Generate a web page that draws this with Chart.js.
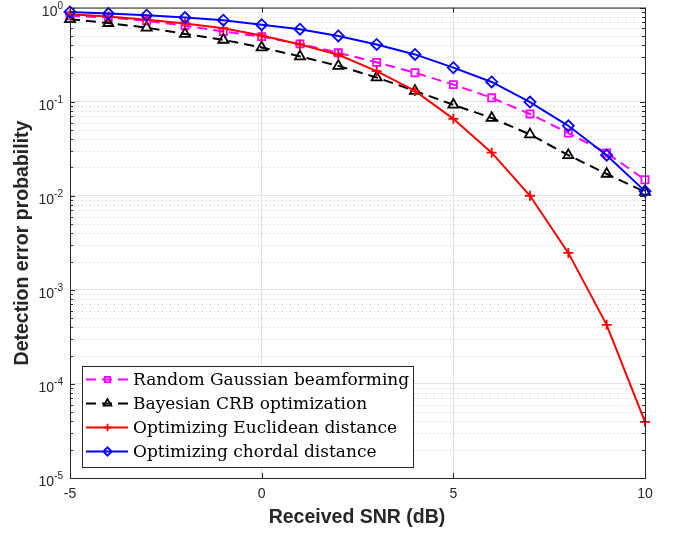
<!DOCTYPE html>
<html>
<head>
<meta charset="utf-8">
<script src="https://cdn.jsdelivr.net/npm/chart.js@4.4.1/dist/chart.umd.min.js"></script>
<style>
body { margin: 0; background: #fff; }
#wrap { width: 678px; height: 533px; }
</style>
</head>
<body>
<div id="wrap"><canvas id="errChart" width="678" height="533"></canvas></div>
<script>
// values
var snr = [-5, -4, -3, -2, -1, 0, 1, 2, 3, 4, 5, 6, 7, 8, 9, 10];
var randomGaussian = [0.818, 0.785, 0.725, 0.642, 0.556, 0.492, 0.411, 0.331, 0.262, 0.203, 0.152, 0.110, 0.074, 0.0464, 0.0285, 0.0148];
var bayesianCrb = [0.753, 0.684, 0.612, 0.525, 0.454, 0.377, 0.303, 0.240, 0.181, 0.130, 0.0927, 0.0671, 0.0449, 0.0270, 0.0171, 0.0110];
var euclidean = [0.850, 0.804, 0.743, 0.679, 0.602, 0.505, 0.406, 0.315, 0.211, 0.130, 0.0657, 0.0287, 0.0100, 0.00247, 0.000425, 0.0000395];
var chordal = [0.900, 0.865, 0.830, 0.785, 0.735, 0.658, 0.590, 0.500, 0.406, 0.318, 0.230, 0.162, 0.099, 0.0554, 0.0270, 0.0112];
var seriesNames = ['Random Gaussian beamforming', 'Bayesian CRB optimization', 'Optimizing Euclidean distance', 'Optimizing chordal distance'];
var xTickValues = [-5, 0, 5, 10];
var yExponents = [0, -1, -2, -3, -4, -5];
var xTitle = 'Received SNR (dB)';
var yTitle = 'Detection error probability';

var axisColor = '#262626';

function toPoints(arr) {
    return snr.map(function(x, i) { return { x: x, y: arr[i] }; });
}

// draws the matlab style box, minor grid, ticks, labels and legend
var matlabLook = {
    id: 'matlabLook',
    beforeDatasetsDraw: function(chart) {
        var ctx = chart.ctx, a = chart.chartArea, ys = chart.scales.y;
        ctx.save();
        ctx.strokeStyle = '#cfcfcf';
        ctx.lineWidth = 1;
        ctx.setLineDash([1, 3]);
        yExponents.forEach(function(e) {
            if (e === 0) return;
            for (var m = 2; m <= 9; m++) {
                var py = Math.round(ys.getPixelForValue(m * Math.pow(10, e))) + 0.5;
                ctx.beginPath();
                ctx.moveTo(a.left, py);
                ctx.lineTo(a.right, py);
                ctx.stroke();
            }
        });
        ctx.restore();
    },
    afterDraw: function(chart) {
        var ctx = chart.ctx, a = chart.chartArea;
        var xs = chart.scales.x, ys = chart.scales.y;
        ctx.save();
        ctx.strokeStyle = axisColor;
        ctx.lineWidth = 1;
        // top and right box lines
        ctx.beginPath();
        ctx.moveTo(a.left, a.top + 0.5);
        ctx.lineTo(a.right + 0.5, a.top + 0.5);
        ctx.lineTo(a.right + 0.5, a.bottom);
        ctx.stroke();

        // inward ticks
        ctx.beginPath();
        xTickValues.forEach(function(v) {
            var px = Math.round(xs.getPixelForValue(v)) + 0.5;
            ctx.moveTo(px, a.bottom); ctx.lineTo(px, a.bottom - 5);
            ctx.moveTo(px, a.top); ctx.lineTo(px, a.top + 5);
        });
        yExponents.forEach(function(e) {
            var py = Math.round(ys.getPixelForValue(Math.pow(10, e))) + 0.5;
            ctx.moveTo(a.left, py); ctx.lineTo(a.left + 5, py);
            ctx.moveTo(a.right, py); ctx.lineTo(a.right - 5, py);
            if (e === 0) return;
            for (var m = 2; m <= 9; m++) {
                var pm = Math.round(ys.getPixelForValue(m * Math.pow(10, e))) + 0.5;
                ctx.moveTo(a.left, pm); ctx.lineTo(a.left + 3, pm);
                ctx.moveTo(a.right, pm); ctx.lineTo(a.right - 3, pm);
            }
        });
        ctx.stroke();

        // y tick labels as 10 with a raised exponent
        ctx.fillStyle = axisColor;
        ctx.textAlign = 'right';
        ctx.textBaseline = 'alphabetic';
        yExponents.forEach(function(e) {
            var py = ys.getPixelForValue(Math.pow(10, e));
            var expText = e === 0 ? '0' : '-' + Math.abs(e);
            ctx.font = '10px "Liberation Sans", Arial, sans-serif';
            var w = ctx.measureText(expText).width;
            ctx.fillText(expText, a.left - 7, py + 1);
            ctx.font = '14px "Liberation Sans", Arial, sans-serif';
            ctx.fillText('10', a.left - 7 - w, py + 8);
        });

        // axis titles
        ctx.font = 'bold 19.5px "Liberation Sans", Arial, sans-serif';
        ctx.textAlign = 'center';
        ctx.textBaseline = 'middle';
        ctx.fillText(xTitle, 357, 518);
        ctx.save();
        ctx.translate(23, 243);
        ctx.rotate(-Math.PI / 2);
        ctx.fillText(yTitle, 0, 0);
        ctx.restore();

        // legend box
        var bx = 82, by = 366, bw = 331, bh = 101;
        ctx.fillStyle = '#fff';
        ctx.fillRect(bx, by, bw, bh);
        ctx.strokeStyle = axisColor;
        ctx.lineWidth = 1;
        ctx.strokeRect(bx + 0.5, by + 0.5, bw, bh);
        chart.data.datasets.forEach(function(ds, i) {
            var ry = by + 13.5 + i * 24;
            ctx.save();
            ctx.strokeStyle = ds.borderColor;
            ctx.lineWidth = ds.borderWidth;
            ctx.setLineDash(ds.borderDash || []);
            ctx.beginPath();
            ctx.moveTo(86, ry);
            ctx.lineTo(128, ry);
            ctx.stroke();
            ctx.setLineDash([]);
            ctx.fillStyle = 'rgba(0,0,0,0)';
            ctx.lineWidth = ds.pointBorderWidth;
            Chart.helpers.drawPoint(ctx, {
                pointStyle: ds.pointStyle,
                rotation: 0,
                radius: ds.pointRadius * 0.75,
                borderWidth: ds.pointBorderWidth
            }, 107.5, ry);
            ctx.restore();
            ctx.fillStyle = '#000';
            ctx.textAlign = 'left';
            ctx.textBaseline = 'middle';
            ctx.font = '17px "DejaVu Serif", serif';
            ctx.fillText(ds.label, 133, ry + 1);
        });
        ctx.restore();
    }
};

var ctx = document.getElementById('errChart').getContext('2d');
var errChart = new Chart(ctx, {
    type: 'line',
    data: {
        datasets: [{
            label: seriesNames[0],
            data: toPoints(randomGaussian),
            borderColor: '#ff00ff',
            borderWidth: 2,
            borderDash: [10, 6],
            pointStyle: 'rect',
            pointRadius: 5,
            pointBorderWidth: 1.8,
            pointBackgroundColor: 'rgba(0,0,0,0)',
            order: 3
        }, {
            label: seriesNames[1],
            data: toPoints(bayesianCrb),
            borderColor: '#000000',
            borderWidth: 2,
            borderDash: [10, 6],
            pointStyle: 'triangle',
            pointRadius: 5.8,
            pointBorderWidth: 1.8,
            pointBackgroundColor: 'rgba(0,0,0,0)',
            order: 2
        }, {
            label: seriesNames[2],
            data: toPoints(euclidean),
            borderColor: '#ff0000',
            borderWidth: 2,
            pointStyle: 'cross',
            pointRadius: 5,
            pointBorderWidth: 1.8,
            pointBackgroundColor: 'rgba(0,0,0,0)',
            order: 1
        }, {
            label: seriesNames[3],
            data: toPoints(chordal),
            borderColor: '#0000ff',
            borderWidth: 2,
            pointStyle: 'rectRot',
            pointRadius: 5.5,
            pointBorderWidth: 1.8,
            pointBackgroundColor: 'rgba(0,0,0,0)',
            order: 0
        }]
    },
    options: {
        responsive: false,
        animation: false,
        clip: false,
        layout: { padding: { top: 2.1, right: 33, left: 0, bottom: 0 } },
        elements: { line: { tension: 0, fill: false } },
        plugins: { legend: { display: false }, tooltip: { enabled: false } },
        scales: {
            x: {
                type: 'linear',
                min: -5,
                max: 10,
                afterBuildTicks: function(scale) {
                    scale.ticks = xTickValues.map(function(v) { return { value: v }; });
                },
                afterFit: function(scale) { scale.height = 55; },
                ticks: {
                    padding: 8,
                    color: axisColor,
                    font: { family: '"Liberation Sans", Arial, sans-serif', size: 14 },
                    maxRotation: 0
                },
                grid: { color: '#e3e3e3', drawTicks: false },
                border: { color: axisColor }
            },
            y: {
                type: 'logarithmic',
                min: 1e-5,
                max: 1,
                afterBuildTicks: function(scale) {
                    scale.ticks = yExponents.map(function(e) { return { value: Math.pow(10, e) }; });
                },
                afterFit: function(scale) { scale.width = 70; },
                ticks: { display: false },
                grid: { color: '#e3e3e3', drawTicks: false },
                border: { color: axisColor }
            }
        }
    },
    plugins: [matlabLook]
});
</script>
</body>
</html>
